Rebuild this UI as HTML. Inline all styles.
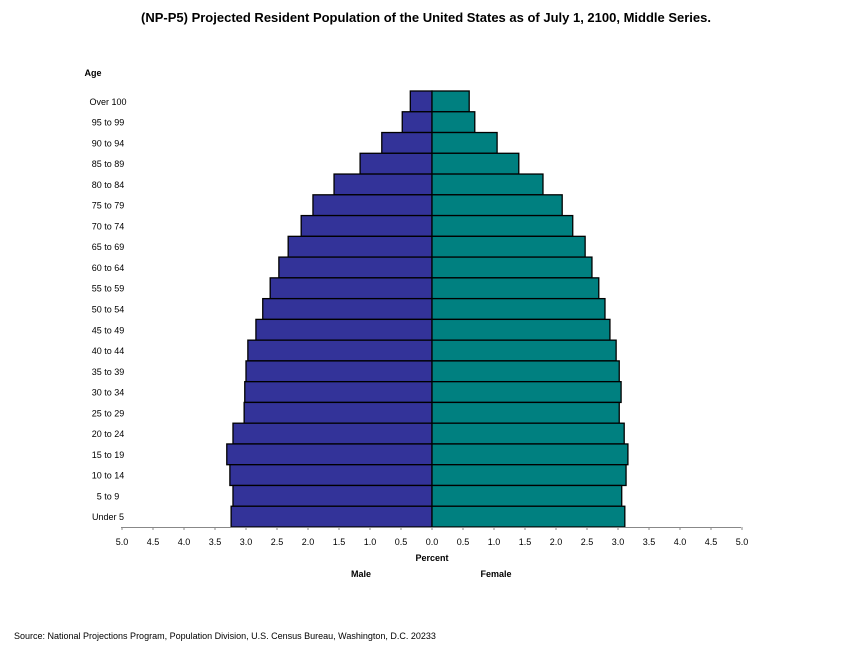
<!DOCTYPE html>
<html><head><meta charset="utf-8"><style>
body{margin:0;background:#fff;}
svg{display:block;font-family:"Liberation Sans",Arial,sans-serif;}
</style></head><body>
<svg width="853" height="650" viewBox="0 0 853 650" xmlns="http://www.w3.org/2000/svg">
<rect width="853" height="650" fill="#fff"/>
<text x="426" y="22" text-anchor="middle" font-size="13" font-weight="bold">(NP-P5)  Projected Resident Population of the United States as of July 1, 2100, Middle Series.</text>
<text x="93" y="76" text-anchor="middle" font-size="9" font-weight="bold">Age</text>
<g id="bars" stroke="#000" stroke-width="1.3"></g>
<g id="labels" font-size="9" text-anchor="middle"></g>
<line x1="121" y1="527.5" x2="741" y2="527.5" stroke="#888" stroke-width="1"/>
<g id="ticks" font-size="9" text-anchor="middle"></g>
<text x="432" y="561" text-anchor="middle" font-size="9" font-weight="bold">Percent</text>
<text x="361" y="577" text-anchor="middle" font-size="9" font-weight="bold">Male</text>
<text x="496" y="577" text-anchor="middle" font-size="9" font-weight="bold">Female</text>
<text x="14" y="639" font-size="9">Source:  National Projections Program, Population Division, U.S. Census Bureau, Washington, D.C. 20233</text>
</svg>
<script>
(function(){
var d=[["Over 100",0.35,0.6],["95 to 99",0.48,0.69],["90 to 94",0.81,1.05],["85 to 89",1.16,1.40],["80 to 84",1.58,1.79],["75 to 79",1.92,2.10],["70 to 74",2.11,2.27],["65 to 69",2.32,2.47],["60 to 64",2.47,2.58],["55 to 59",2.61,2.69],["50 to 54",2.73,2.79],["45 to 49",2.84,2.87],["40 to 44",2.97,2.97],["35 to 39",3.0,3.02],["30 to 34",3.02,3.05],["25 to 29",3.03,3.02],["20 to 24",3.21,3.10],["15 to 19",3.31,3.16],["10 to 14",3.26,3.13],["5 to 9",3.21,3.06],["Under 5",3.24,3.11]];
var NS="http://www.w3.org/2000/svg",b=document.getElementById("bars"),l=document.getElementById("labels"),t=document.getElementById("ticks");
var x0=432,s=62,yTop=91,h=(527-91)/21;
function el(p,n,a,tx){var e=document.createElementNS(NS,n);for(var k in a)e.setAttribute(k,a[k]);if(tx)e.textContent=tx;p.appendChild(e);}
d.forEach(function(r,i){var y=yTop+i*h;
el(b,"rect",{x:x0-r[1]*s,y:y,width:r[1]*s,height:h,fill:"#333399"});
el(b,"rect",{x:x0,y:y,width:r[2]*s,height:h,fill:"#008080"});
el(l,"text",{x:108,y:y+h/2+3.5},r[0]);});
for(var i=-10;i<=10;i++){var x=x0+i*s/2;el(t,"line",{x1:x,y1:527,x2:x,y2:530,stroke:"#888"});
el(t,"text",{x:x,y:545},(Math.abs(i)/2).toFixed(1));}
})();
</script>
</body></html>
